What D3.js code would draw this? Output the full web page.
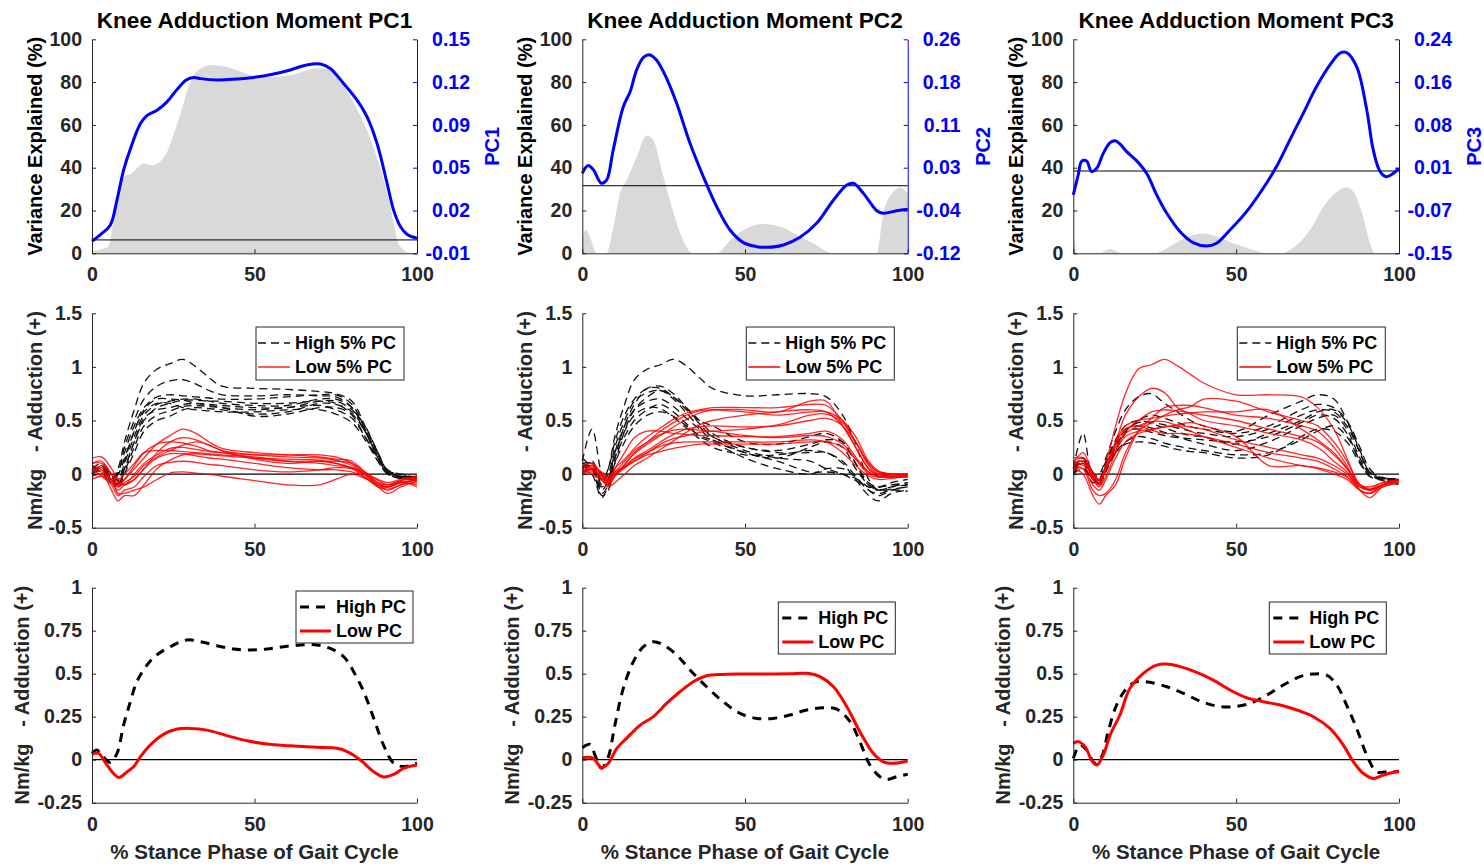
<!DOCTYPE html>
<html>
<head>
<meta charset="utf-8">
<script src="https://cdn.jsdelivr.net/npm/d3@7"></script>
<style>
  body { margin: 0; background: #fff; }
  svg { display: block; }
  text { font-family: "Liberation Sans", Arial, sans-serif; font-weight: bold; }
</style>
</head>
<body>
<svg width="1484" height="867"></svg>
<script>
// ---- data ----
const pcNames = ['PC1', 'PC2', 'PC3'];
const xTicks = [0, 50, 100];
const varTicks = [0, 20, 40, 60, 80, 100];
const pcDomains = [[-0.01, 0.15], [-0.12, 0.26], [-0.15, 0.24]];
const pcTickLabels = [
    ['-0.01', '0.02', '0.05', '0.09', '0.12', '0.15'],
    ['-0.12', '-0.04', '0.03', '0.11', '0.18', '0.26'],
    ['-0.15', '-0.07', '0.01', '0.08', '0.16', '0.24']
];
const curveTicks = [-0.5, 0, 0.5, 1, 1.5];
const meanTicks = [-0.25, 0, 0.25, 0.5, 0.75, 1];

// variance explained (%) at each % of stance
const varPC1 = [[0,1],[3,2],[5,3],[6.5,14],[8,30],[10,36],[12,37],[14,40],[16,42],[18.5,41],[21,43],[23,47],[25,55],[27,64],[30,79],[33,86],[37,88],[41.5,87],[45.6,85],[50,83],[55,82.5],[60,83],[65,85],[69,86.5],[72,86],[76,81],[79.5,73],[82,66],[84.6,57.6],[86.7,49],[88.7,40],[90.5,30],[91.8,22],[93,13],[94,6],[95.9,1.5],[97,0.5],[100,0]];
const varPC2 = [[0,7],[1.1,11],[2.5,7],[4.4,0],[7.5,0],[9.5,12],[11.6,28],[13.6,34],[16.7,45],[19.8,55],[21.8,53],[24.9,36],[28,19],[31,6],[34,0],[41.3,0],[45.4,6],[50.5,11.7],[55.6,13.7],[60.8,12.5],[65.9,8.6],[71,4.7],[77.2,0],[90.5,0],[92.5,18.7],[95.6,28.8],[97.6,30.8],[100,28]];
const varPC3 = [[0,9],[0.5,5],[1,0],[8,0],[11.3,2],[15,0],[24.6,0],[28.7,2.3],[32.8,6],[36.8,8.6],[39.9,9.3],[44,7.8],[49.1,4.7],[55.3,1.6],[59.4,0],[63.5,0],[68.6,3.9],[72.7,11],[76.8,21.8],[80.9,28.8],[83.9,30.8],[86,28.8],[89,17],[91.1,4.7],[92.6,0],[100,0]];

// PC loading vectors
const loadPC1 = [[0,-0.001],[2.6,0.004],[5.6,0.011],[7.7,0.030],[9.7,0.052],[11.8,0.068],[14.9,0.087],[16.9,0.093],[20,0.097],[23,0.103],[26,0.112],[29,0.1196],[31.3,0.1214],[33.3,0.1206],[38.5,0.1196],[43.6,0.1201],[49.7,0.1215],[55.9,0.1241],[61,0.1271],[66,0.1308],[70.3,0.1316],[73.3,0.1282],[77.4,0.117],[81.5,0.1047],[84.6,0.0922],[87.7,0.0722],[90.8,0.0423],[92.8,0.0223],[94.9,0.010],[96.9,0.0042],[100,0.0012]];
const loadPC2 = [[0,0.0221],[1.8,0.0358],[3.4,0.0282],[5.9,0.0043],[7.5,0.0103],[9.5,0.0635],[12.6,0.1403],[14.7,0.1669],[16.7,0.2057],[18.8,0.2281],[20.8,0.2323],[22.8,0.2231],[25.9,0.1908],[29,0.1464],[33.1,0.0753],[37.2,0.016],[41.3,-0.0372],[45.4,-0.0786],[49.5,-0.101],[53.6,-0.1082],[56.7,-0.1094],[61.8,-0.1052],[66.9,-0.0915],[72,-0.0668],[77.2,-0.0254],[81.3,0.0012],[83.3,0.0043],[86.4,-0.0136],[90.5,-0.0444],[92.5,-0.0489],[96.6,-0.0444],[100,-0.0417]];
const loadPC3 = [[0,-0.0435],[1.5,-0.0073],[2.6,0.0181],[4.1,0.0181],[5.6,-0.001],[7.2,0.0048],[9.2,0.0321],[11.3,0.0516],[12.8,0.0551],[14.3,0.0493],[16.4,0.0353],[19.4,0.0189],[22.5,-0.0041],[25.6,-0.0435],[28.7,-0.0771],[32.8,-0.1106],[36.8,-0.1305],[40.9,-0.1367],[44,-0.1317],[48.1,-0.1075],[53.2,-0.074],[58.3,-0.0314],[62.4,0.008],[66.5,0.0567],[70.6,0.1051],[74.7,0.1538],[78.8,0.1932],[81.9,0.2147],[83.9,0.2158],[87,0.1901],[90.1,0.1113],[92.1,0.0384],[94.2,-0.001],[96.2,-0.0104],[98.3,-0.0041],[100,0.0048]];

// individual curves (Nm/kg) sampled at these % stance
const curveX = [0,3,6,8,10,13,16,20,24,28,32,36,40,50,60,70,75,80,84,88,91,95,100];
const high5PC1 = [
    [0.02,0.05,-0.05,0.05,0.30,0.60,0.85,0.98,1.03,1.07,1.00,0.90,0.82,0.80,0.79,0.77,0.75,0.68,0.45,0.20,0.02,-0.03,-0.05],
    [0.00,0.08,-0.08,0.00,0.25,0.50,0.70,0.82,0.87,0.88,0.84,0.78,0.74,0.73,0.74,0.73,0.72,0.62,0.40,0.15,0.00,-0.04,-0.03],
    [0.05,0.10,0.00,-0.10,0.05,0.30,0.50,0.62,0.66,0.69,0.69,0.68,0.68,0.66,0.66,0.68,0.66,0.55,0.35,0.12,0.00,-0.02,-0.04],
    [0.00,0.05,-0.05,-0.13,0.00,0.20,0.40,0.50,0.54,0.60,0.62,0.61,0.60,0.56,0.58,0.66,0.65,0.58,0.40,0.15,0.01,-0.02,-0.02],
    [0.08,0.03,-0.02,0.00,0.15,0.40,0.60,0.70,0.70,0.69,0.66,0.64,0.62,0.60,0.62,0.64,0.60,0.52,0.35,0.15,0.03,0.00,-0.03],
    [0.03,0.07,-0.03,-0.05,0.10,0.35,0.55,0.65,0.68,0.70,0.70,0.68,0.66,0.64,0.64,0.70,0.70,0.62,0.42,0.18,0.02,-0.03,-0.06],
    [-0.02,0.00,-0.10,-0.08,0.12,0.40,0.58,0.66,0.66,0.62,0.60,0.59,0.58,0.58,0.60,0.60,0.56,0.48,0.32,0.12,0.00,-0.04,-0.05],
    [0.01,0.06,0.00,-0.06,0.05,0.30,0.52,0.60,0.62,0.65,0.66,0.65,0.64,0.62,0.62,0.68,0.68,0.60,0.45,0.20,0.03,-0.02,-0.04],
    [0.04,0.02,-0.06,0.02,0.20,0.45,0.62,0.72,0.74,0.73,0.72,0.71,0.70,0.70,0.72,0.74,0.74,0.65,0.42,0.18,0.02,-0.02,-0.02],
    [0.00,0.04,-0.04,-0.10,0.02,0.25,0.45,0.55,0.59,0.63,0.64,0.63,0.62,0.54,0.56,0.62,0.62,0.56,0.40,0.18,0.04,0.00,-0.03]
];
const low5PC1 = [
    [0.10,0.10,0.00,-0.10,-0.05,0.05,0.15,0.28,0.36,0.42,0.38,0.30,0.24,0.20,0.18,0.18,0.16,0.10,0.00,-0.10,-0.12,-0.08,-0.05],
    [0.15,0.16,0.05,-0.05,-0.10,-0.05,0.05,0.20,0.30,0.34,0.32,0.27,0.22,0.18,0.16,0.15,0.13,0.08,0.00,-0.10,-0.15,-0.10,-0.08],
    [0.05,0.02,-0.15,-0.25,-0.20,-0.20,-0.10,0.05,0.13,0.18,0.19,0.18,0.17,0.15,0.14,0.13,0.10,0.05,-0.03,-0.12,-0.14,-0.10,-0.04],
    [-0.05,-0.02,-0.05,-0.18,-0.18,-0.15,-0.12,-0.05,0.01,0.02,0.01,0.00,-0.02,-0.06,-0.10,-0.10,-0.05,0.00,-0.04,-0.10,-0.12,-0.08,-0.06],
    [0.02,0.06,-0.05,-0.12,-0.05,0.08,0.20,0.28,0.30,0.29,0.26,0.22,0.20,0.15,0.12,0.12,0.10,0.06,0.00,-0.08,-0.10,-0.06,-0.03],
    [0.08,0.04,-0.08,-0.15,-0.10,-0.05,0.05,0.15,0.19,0.19,0.17,0.15,0.14,0.10,0.06,0.04,0.04,0.02,-0.03,-0.12,-0.18,-0.12,-0.06],
    [0.00,0.08,0.00,-0.08,-0.10,0.00,0.10,0.18,0.24,0.25,0.23,0.21,0.20,0.18,0.18,0.16,0.14,0.12,0.02,-0.05,-0.08,-0.05,-0.02],
    [0.05,-0.02,-0.10,-0.20,-0.15,-0.12,-0.02,0.08,0.11,0.12,0.11,0.09,0.08,0.04,0.02,0.04,0.06,0.05,-0.01,-0.10,-0.12,-0.08,-0.10],
    [0.10,0.12,0.00,-0.05,0.00,0.10,0.20,0.22,0.22,0.21,0.20,0.19,0.18,0.16,0.12,0.10,0.08,0.06,0.01,-0.06,-0.10,-0.06,-0.04],
    [-0.02,0.00,-0.06,-0.12,-0.08,-0.02,0.08,0.16,0.22,0.27,0.30,0.27,0.22,0.14,0.10,0.12,0.12,0.10,0.02,-0.08,-0.12,-0.07,-0.12]
];
const high5PC2 = [
    [0.10,0.10,-0.10,0.05,0.35,0.65,0.88,0.98,1.02,1.07,1.01,0.90,0.80,0.73,0.74,0.75,0.72,0.55,0.28,-0.05,-0.15,-0.14,-0.12],
    [0.12,0.42,0.00,-0.10,0.15,0.45,0.65,0.80,0.82,0.75,0.62,0.47,0.35,0.25,0.20,0.20,0.20,0.10,-0.05,-0.20,-0.25,-0.18,-0.15],
    [0.15,0.05,-0.20,-0.15,0.10,0.40,0.60,0.72,0.78,0.70,0.57,0.44,0.35,0.22,0.15,0.12,0.05,0.00,-0.06,-0.12,-0.12,-0.10,-0.10],
    [0.05,0.08,-0.15,-0.05,0.20,0.45,0.60,0.68,0.70,0.63,0.52,0.42,0.32,0.20,0.15,0.25,0.30,0.25,0.05,-0.10,-0.15,-0.12,-0.08],
    [0.08,0.00,-0.22,-0.10,0.15,0.35,0.50,0.60,0.65,0.58,0.47,0.35,0.30,0.15,0.05,0.00,0.05,0.05,-0.03,-0.15,-0.18,-0.15,-0.16],
    [0.00,0.10,-0.08,0.00,0.25,0.50,0.68,0.76,0.78,0.72,0.60,0.50,0.45,0.30,0.28,0.35,0.38,0.30,0.10,-0.08,-0.12,-0.10,-0.08],
    [0.10,0.05,-0.12,-0.05,0.20,0.40,0.55,0.62,0.61,0.53,0.43,0.33,0.25,0.18,0.18,0.22,0.20,0.12,-0.02,-0.15,-0.20,-0.15,-0.12],
    [0.05,0.12,-0.05,0.05,0.30,0.55,0.70,0.80,0.80,0.72,0.62,0.50,0.38,0.25,0.22,0.28,0.32,0.30,0.10,-0.10,-0.12,-0.08,-0.05],
    [0.02,0.06,-0.18,-0.10,0.10,0.30,0.45,0.55,0.58,0.54,0.45,0.36,0.32,0.20,0.12,0.02,0.02,0.00,-0.04,-0.12,-0.15,-0.12,-0.10]
];
const low5PC2 = [
    [0.00,0.08,0.00,-0.05,0.05,0.14,0.24,0.35,0.43,0.51,0.57,0.60,0.62,0.62,0.62,0.65,0.64,0.50,0.30,0.10,0.02,0.00,0.00],
    [0.05,0.10,-0.02,-0.10,-0.02,0.09,0.19,0.28,0.36,0.44,0.51,0.57,0.60,0.60,0.58,0.68,0.68,0.45,0.25,0.05,-0.02,-0.03,-0.02],
    [0.02,0.05,-0.05,-0.12,-0.08,0.00,0.08,0.15,0.23,0.31,0.39,0.46,0.50,0.55,0.58,0.60,0.58,0.45,0.30,0.10,0.02,0.00,-0.01],
    [0.00,0.02,0.00,-0.05,0.00,0.06,0.14,0.20,0.26,0.29,0.30,0.30,0.30,0.30,0.30,0.32,0.30,0.20,0.08,-0.02,-0.05,-0.04,-0.02],
    [0.08,0.10,0.00,-0.08,0.05,0.20,0.34,0.40,0.40,0.38,0.37,0.36,0.36,0.35,0.35,0.38,0.40,0.32,0.16,0.02,-0.02,-0.02,-0.02],
    [0.00,0.04,-0.04,-0.08,0.00,0.07,0.15,0.22,0.30,0.37,0.42,0.44,0.45,0.44,0.45,0.50,0.52,0.45,0.25,0.05,0.00,-0.02,-0.03],
    [0.03,0.06,0.02,-0.02,0.02,0.07,0.12,0.18,0.21,0.24,0.26,0.28,0.28,0.28,0.28,0.30,0.30,0.25,0.14,0.02,-0.02,0.00,0.00],
    [0.00,0.05,-0.02,-0.06,0.00,0.09,0.20,0.30,0.40,0.48,0.55,0.59,0.60,0.58,0.55,0.58,0.58,0.50,0.35,0.12,0.03,0.00,0.00],
    [0.05,0.00,-0.06,-0.10,-0.02,0.06,0.12,0.20,0.28,0.33,0.36,0.39,0.40,0.42,0.46,0.55,0.56,0.48,0.30,0.08,0.00,-0.02,-0.02],
    [0.02,0.08,0.00,-0.04,0.02,0.12,0.22,0.30,0.37,0.41,0.42,0.41,0.40,0.36,0.34,0.36,0.35,0.28,0.14,0.00,-0.03,-0.02,-0.01]
];
const high5PC3 = [
    [0.05,0.38,-0.02,0.00,0.15,0.40,0.60,0.72,0.75,0.66,0.58,0.50,0.45,0.40,0.55,0.68,0.74,0.70,0.50,0.20,0.00,-0.05,-0.05],
    [0.00,0.10,-0.05,-0.08,0.05,0.20,0.30,0.35,0.33,0.29,0.26,0.24,0.22,0.18,0.20,0.32,0.40,0.45,0.35,0.12,-0.02,-0.05,-0.08],
    [0.05,0.15,0.00,-0.10,0.05,0.25,0.40,0.48,0.48,0.46,0.43,0.40,0.38,0.35,0.42,0.55,0.60,0.58,0.45,0.20,0.02,-0.05,-0.06],
    [0.10,0.08,-0.08,-0.05,0.10,0.30,0.42,0.45,0.43,0.39,0.35,0.31,0.28,0.22,0.30,0.45,0.52,0.55,0.42,0.15,0.00,-0.04,-0.04],
    [0.02,0.12,0.02,-0.06,0.08,0.28,0.40,0.42,0.39,0.36,0.34,0.33,0.32,0.30,0.35,0.48,0.55,0.52,0.38,0.12,-0.02,-0.06,-0.10],
    [0.06,0.10,-0.02,-0.10,0.02,0.22,0.38,0.50,0.55,0.52,0.48,0.44,0.42,0.38,0.45,0.60,0.65,0.62,0.50,0.25,0.05,-0.04,-0.05],
    [0.00,0.05,-0.05,-0.08,0.05,0.20,0.28,0.30,0.29,0.26,0.23,0.21,0.20,0.15,0.18,0.35,0.42,0.40,0.30,0.10,-0.02,-0.04,-0.05],
    [0.08,0.14,0.00,-0.04,0.12,0.32,0.45,0.50,0.47,0.43,0.39,0.36,0.35,0.28,0.38,0.50,0.58,0.60,0.48,0.22,0.02,-0.03,-0.06]
];
const low5PC3 = [
    [0.15,0.15,-0.05,-0.10,0.10,0.45,0.75,0.98,1.02,1.07,1.01,0.93,0.85,0.74,0.74,0.72,0.62,0.42,0.15,-0.10,-0.12,-0.08,-0.05],
    [0.10,0.20,0.00,-0.10,0.05,0.30,0.55,0.72,0.80,0.76,0.62,0.56,0.50,0.45,0.38,0.32,0.25,0.12,0.02,-0.15,-0.18,-0.10,-0.06],
    [0.05,0.00,-0.20,-0.28,-0.20,-0.10,0.15,0.40,0.52,0.62,0.64,0.64,0.62,0.55,0.52,0.45,0.40,0.25,0.08,-0.15,-0.22,-0.12,-0.08],
    [0.08,0.05,-0.15,-0.20,-0.18,-0.05,0.20,0.40,0.48,0.55,0.60,0.63,0.70,0.68,0.58,0.50,0.45,0.30,0.12,-0.10,-0.15,-0.10,-0.05],
    [0.10,0.12,-0.02,-0.06,0.05,0.25,0.38,0.45,0.49,0.49,0.45,0.40,0.35,0.25,0.15,0.08,0.06,0.02,-0.03,-0.15,-0.18,-0.12,-0.08],
    [0.05,0.10,0.00,-0.08,0.05,0.22,0.35,0.40,0.42,0.44,0.46,0.48,0.45,0.35,0.08,0.08,0.05,0.00,-0.05,-0.15,-0.18,-0.10,-0.06],
    [0.10,0.08,-0.05,-0.12,-0.02,0.20,0.40,0.50,0.58,0.60,0.59,0.57,0.55,0.50,0.42,0.35,0.30,0.18,0.05,-0.12,-0.15,-0.10,-0.08],
    [0.12,0.15,0.02,-0.05,0.05,0.28,0.42,0.45,0.41,0.38,0.38,0.37,0.35,0.28,0.20,0.15,0.12,0.05,-0.02,-0.12,-0.14,-0.08,-0.06],
    [0.05,0.05,-0.10,-0.15,-0.05,0.15,0.30,0.38,0.41,0.44,0.45,0.44,0.42,0.32,0.25,0.18,0.15,0.08,0.00,-0.10,-0.14,-0.10,-0.05],
    [0.08,0.12,0.00,-0.05,0.08,0.30,0.45,0.50,0.52,0.54,0.56,0.57,0.58,0.58,0.60,0.42,0.32,0.20,0.06,-0.10,-0.15,-0.10,-0.06]
];

// mean curves of high / low groups
const highPC1 = [[0,0.037],[1.5,0.056],[3,0.027],[5.6,-0.016],[7.7,0.037],[9.7,0.2],[11.8,0.337],[13.8,0.453],[16.9,0.55],[20,0.61],[24.1,0.657],[29.2,0.696],[33.3,0.686],[38.5,0.663],[43.6,0.643],[48.7,0.638],[53.8,0.643],[59,0.657],[64.1,0.667],[69.2,0.667],[73.3,0.647],[77.4,0.6],[80.5,0.512],[83.6,0.395],[86.7,0.24],[89.7,0.085],[92.8,-0.02],[95.9,-0.04],[100,-0.02]];
const lowPC1 = [[0,0.031],[2,0.037],[4.6,-0.031],[8.2,-0.103],[10.8,-0.07],[12.8,-0.041],[14.9,0.017],[17.9,0.085],[22,0.147],[26.2,0.178],[30.3,0.182],[35.4,0.172],[41.5,0.14],[47.7,0.11],[53.8,0.091],[61,0.081],[69.2,0.072],[75.4,0.066],[78.5,0.047],[82.6,-0.002],[86.7,-0.07],[89.7,-0.1],[92.8,-0.085],[95.9,-0.05],[100,-0.031]];
const highPC2 = [[0,0.07],[2.4,0.089],[3.9,0.027],[5.9,-0.05],[8,0.017],[10,0.2],[12.6,0.415],[15.7,0.57],[18.8,0.657],[21.8,0.686],[24.9,0.667],[29,0.609],[33.1,0.522],[38.2,0.424],[43.3,0.337],[48.5,0.269],[53.6,0.24],[58.7,0.24],[63.8,0.26],[69,0.289],[74.1,0.302],[78.2,0.294],[82.3,0.221],[85.3,0.105],[88.4,-0.031],[91.5,-0.099],[93.5,-0.115],[96.6,-0.099],[100,-0.085]];
const lowPC2 = [[0,0.012],[3.4,0.008],[5.9,-0.047],[8,-0.021],[10.6,0.066],[13.6,0.124],[17.7,0.2],[21.8,0.25],[25.9,0.327],[30,0.395],[34.1,0.453],[38.2,0.488],[43.3,0.496],[49.5,0.498],[56.7,0.498],[63.8,0.5],[69,0.502],[73,0.483],[77.2,0.424],[81.3,0.308],[85.3,0.163],[89.4,0.037],[92.5,-0.012],[95.6,-0.021],[100,-0.008]];
const highPC3 = [[0,0.008],[2,0.085],[4.1,0.056],[6.7,-0.021],[8.7,0.017],[10.7,0.163],[13.3,0.318],[16.4,0.415],[19.4,0.453],[23.5,0.45],[28.7,0.424],[33.8,0.386],[38.9,0.341],[44,0.312],[49.1,0.308],[54.2,0.327],[59.4,0.376],[64.5,0.434],[69.6,0.483],[73.7,0.498],[77.8,0.492],[80.9,0.434],[83.9,0.318],[87,0.182],[90.1,0.027],[93.1,-0.07],[96.2,-0.07],[100,-0.07]];
const lowPC3 = [[0,0.095],[1.5,0.105],[3.6,0.076],[5.6,-0.002],[7.2,-0.031],[9.2,0.027],[11.3,0.143],[14.3,0.26],[17.4,0.415],[21.5,0.502],[25.6,0.55],[28.7,0.556],[32.8,0.541],[37.9,0.508],[43,0.463],[48.1,0.405],[53.2,0.36],[58.3,0.337],[63.5,0.318],[68.6,0.289],[73.7,0.25],[78.8,0.182],[82.9,0.085],[86,-0.012],[89,-0.079],[92.1,-0.109],[95.2,-0.089],[100,-0.066]];

// ---- layout ----
const width = 1484;
const height = 867;
const cols = [{x0: 92, x1: 417}, {x0: 582.3, x1: 907.7}, {x0: 1073.3, x1: 1399}];
const rows = [{y0: 39.3, y1: 253.3}, {y0: 313.3, y1: 527.7}, {y0: 587.7, y1: 802.7}];
const axisColor = '#262626';
const blue = '#0000ff';
const font = '"Liberation Sans", Arial, sans-serif';
const tickFont = `bold 19.5px ${font}`;

const svg = d3.select('svg');

const varSets = [varPC1, varPC2, varPC3];
const loadSets = [loadPC1, loadPC2, loadPC3];
const high5Sets = [high5PC1, high5PC2, high5PC3];
const low5Sets = [low5PC1, low5PC2, low5PC3];
const highSets = [highPC1, highPC2, highPC3];
const lowSets = [lowPC1, lowPC2, lowPC3];

function styleAxis(g, color) {
    g.attr('font-family', null).attr('font-size', null);
    g.selectAll('path, line').attr('stroke', color).attr('stroke-width', 1);
    g.selectAll('text')
        .attr('fill', color)
        .style('font', tickFont);
}

function bottomAxis(xScale, y) {
    const g = svg.append('g')
        .attr('transform', `translate(0, ${y})`)
        .call(d3.axisBottom(xScale).tickValues(xTicks).tickSize(-4).tickSizeOuter(0).tickPadding(14));
    styleAxis(g, axisColor);
}

function leftAxis(yScale, ticks, x) {
    const g = svg.append('g')
        .attr('transform', `translate(${x}, 0)`)
        .call(d3.axisLeft(yScale).tickValues(ticks).tickSize(-4).tickSizeOuter(0).tickPadding(10)
            .tickFormat(d => String(d)));
    styleAxis(g, axisColor);
}

function yLabel(text, cx, cy, color) {
    svg.append('text')
        .text(text)
        .attr('transform', `translate(${cx}, ${cy}) rotate(-90)`)
        .attr('dy', '0.35em')
        .attr('text-anchor', 'middle')
        .attr('fill', color)
        .style('white-space', 'pre')
        .style('font-size', '20px');
}

function legend(x, y, w, h, rowsY, lineX0, lineX1, textX, items) {
    svg.append('rect')
        .attr('x', x).attr('y', y).attr('width', w).attr('height', h)
        .attr('fill', '#fff').attr('stroke', axisColor).attr('stroke-width', 1);
    items.forEach((it, i) => {
        svg.append('line')
            .attr('x1', lineX0).attr('x2', lineX1)
            .attr('y1', rowsY[i]).attr('y2', rowsY[i])
            .attr('stroke', it.color).attr('stroke-width', it.width)
            .attr('stroke-dasharray', it.dash);
        svg.append('text')
            .text(it.label)
            .attr('x', textX).attr('y', rowsY[i])
            .attr('dy', '0.35em')
            .attr('fill', '#000')
            .style('font-size', '18px');
    });
}

pcNames.forEach((pc, c) => {
    const col = cols[c];
    const dx = col.x0 - cols[0].x0;
    const x = d3.scaleLinear().domain([0, 100]).range([col.x0, col.x1]);

    // ---- row 1: variance explained + PC loading ----
    const r1 = rows[0];
    const yVar = d3.scaleLinear().domain([0, 100]).range([r1.y1, r1.y0]);
    const yPc = d3.scaleLinear().domain(pcDomains[c]).range([r1.y1, r1.y0]);

    svg.append('path')
        .datum(varSets[c])
        .attr('fill', '#d9d9d9')
        .attr('d', d3.area().x(d => x(d[0])).y0(yVar(0)).y1(d => yVar(d[1])).curve(d3.curveMonotoneX));

    svg.append('line')
        .attr('x1', x(0)).attr('x2', x(100))
        .attr('y1', yPc(0)).attr('y2', yPc(0))
        .attr('stroke', c === 2 ? '#555' : '#000').attr('stroke-width', c === 2 ? 1.5 : 1);

    svg.append('path')
        .datum(loadSets[c])
        .attr('fill', 'none')
        .attr('stroke', blue)
        .attr('stroke-width', 3)
        .attr('d', d3.line().x(d => x(d[0])).y(d => yPc(d[1])).curve(d3.curveCatmullRom));

    bottomAxis(x, r1.y1);
    leftAxis(yVar, varTicks, col.x0);
    const rg = svg.append('g')
        .attr('transform', `translate(${col.x1}, 0)`)
        .call(d3.axisRight(yPc)
            .tickValues(d3.range(6).map(i => pcDomains[c][0] + i * (pcDomains[c][1] - pcDomains[c][0]) / 5))
            .tickFormat((d, i) => pcTickLabels[c][i])
            .tickSize(-4).tickSizeOuter(0).tickPadding(11));
    styleAxis(rg, blue);
    // MATLAB right-aligns the right-hand tick labels
    rg.selectAll('.tick text').attr('x', 53).attr('text-anchor', 'end');

    svg.append('text')
        .text(`Knee Adduction Moment ${pc}`)
        .attr('x', (col.x0 + col.x1) / 2)
        .attr('y', 28)
        .attr('text-anchor', 'middle')
        .attr('fill', '#000')
        .style('font-size', '22.6px');
    yLabel('Variance Explained (%)', 35 + dx, (r1.y0 + r1.y1) / 2, '#000');
    yLabel(pc, col.x1 + 75, (r1.y0 + r1.y1) / 2, blue);

    // ---- row 2: high / low 5% curves ----
    const r2 = rows[1];
    const y2 = d3.scaleLinear().domain([-0.5, 1.5]).range([r2.y1, r2.y0]);
    const line2 = d3.line().x((d, i) => x(curveX[i])).y(d => y2(d)).curve(d3.curveCatmullRom);

    svg.append('line')
        .attr('x1', x(0)).attr('x2', x(100))
        .attr('y1', y2(0)).attr('y2', y2(0))
        .attr('stroke', '#000').attr('stroke-width', 1.2);

    svg.append('g').selectAll('path')
        .data(high5Sets[c])
        .join('path')
        .attr('fill', 'none')
        .attr('stroke', '#111')
        .attr('stroke-width', 1.3)
        .attr('stroke-dasharray', '8,5')
        .attr('d', line2);
    svg.append('g').selectAll('path')
        .data(low5Sets[c])
        .join('path')
        .attr('fill', 'none')
        .attr('stroke', '#ff0000')
        .attr('stroke-opacity', 0.85)
        .attr('stroke-width', 1.3)
        .attr('d', line2);

    bottomAxis(x, r2.y1);
    leftAxis(y2, curveTicks, col.x0);
    yLabel('Nm/kg   - Adduction (+)', 35 + dx, (r2.y0 + r2.y1) / 2, axisColor);
    legend(col.x0 + 164, 327, 148, 53, [343, 367], col.x0 + 166, col.x0 + 198, col.x0 + 203, [
        {label: 'High 5% PC', color: '#111', width: 1.3, dash: '8,5'},
        {label: 'Low 5% PC', color: '#ff0000', width: 1.3, dash: null}
    ]);

    // ---- row 3: mean high / low curves ----
    const r3 = rows[2];
    const y3 = d3.scaleLinear().domain([-0.25, 1]).range([r3.y1, r3.y0]);
    const line3 = d3.line().x(d => x(d[0])).y(d => y3(d[1])).curve(d3.curveCatmullRom);

    svg.append('line')
        .attr('x1', x(0)).attr('x2', x(100))
        .attr('y1', y3(0)).attr('y2', y3(0))
        .attr('stroke', '#000').attr('stroke-width', 1.2);

    svg.append('path')
        .datum(highSets[c])
        .attr('fill', 'none')
        .attr('stroke', '#000')
        .attr('stroke-width', 3)
        .attr('stroke-dasharray', '9,7')
        .attr('d', line3);
    svg.append('path')
        .datum(lowSets[c])
        .attr('fill', 'none')
        .attr('stroke', '#ff0000')
        .attr('stroke-width', 3)
        .attr('d', line3);

    bottomAxis(x, r3.y1);
    leftAxis(y3, meanTicks, col.x0);
    yLabel('Nm/kg   - Adduction (+)', 22 + dx, (r3.y0 + r3.y1) / 2, axisColor);
    svg.append('text')
        .text('% Stance Phase of Gait Cycle')
        .attr('x', (col.x0 + col.x1) / 2)
        .attr('y', 859)
        .attr('text-anchor', 'middle')
        .attr('fill', axisColor)
        .style('font-size', '20.5px');

    const lx = c === 0 ? col.x0 + 204 : col.x0 + 196;
    const ly = c === 0 ? 591 : 602;
    legend(lx, ly, 117, 52, [ly + 16, ly + 40], lx + 4, lx + 35, lx + 40, [
        {label: 'High PC', color: '#000', width: 3, dash: '9,7'},
        {label: 'Low PC', color: '#ff0000', width: 3, dash: null}
    ]);
});
</script>
</body>
</html>
